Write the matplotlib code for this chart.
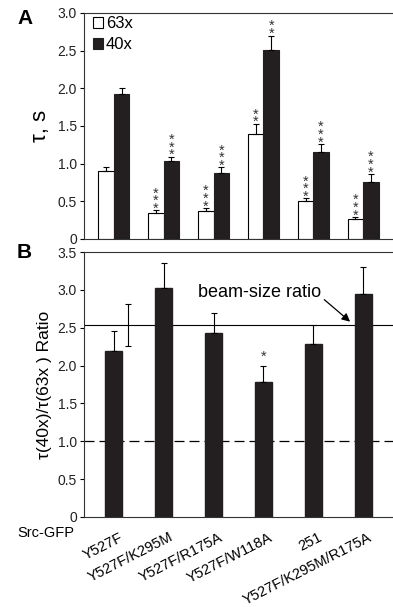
import numpy as np
import matplotlib
matplotlib.use('Agg')
from matplotlib import rcParams
import matplotlib.transforms as mtransforms
rcParams['font.family'] = ['Liberation Sans', 'DejaVu Sans']
import matplotlib.pyplot as plt

# panel A: relaxation time, s
mutants = ['Y527F', 'Y527F/K295M', 'Y527F/R175A', 'Y527F/W118A', '251', 'Y527F/K295M/R175A']
tau63 = [0.90, 0.35, 0.37, 1.40, 0.50, 0.26]
tau63_err = [0.05, 0.03, 0.04, 0.13, 0.04, 0.03]
tau40 = [1.93, 1.04, 0.88, 2.51, 1.16, 0.76]
tau40_err = [0.07, 0.05, 0.07, 0.19, 0.10, 0.10]
stars63 = ['', '***', '***', '**', '***', '***']
stars40 = ['', '***', '***', '**', '***', '***']

# panel B: ratio
ratio = [2.19, 3.02, 2.43, 1.78, 2.29, 2.95]
ratio_err = [0.27, 0.34, 0.27, 0.21, 0.24, 0.35]
starsB = ['', '', '', '*', '', '']
beam_ratio = 2.54
beam_ratio_err = 0.28
dark = '#231f20'

def stack(s):
	return '\n'.join(list(s))

def main():
	fig = plt.figure(figsize=(3.93, 6.07), dpi=100)
	axA = fig.add_axes([0.2137, 0.6063, 0.7863, 0.3723])
	axB = fig.add_axes([0.2137, 0.1483, 0.7863, 0.4365])
	x = np.arange(len(mutants))
	w = 0.31

	# --- A ---
	axA.bar(x - w/2, tau63, w, color='white', edgecolor='black', linewidth=0.8, label='63x')
	axA.bar(x + w/2, tau40, w, color=dark, edgecolor=dark, linewidth=0.8, label='40x')
	axA.errorbar(x - w/2, tau63, yerr=[np.zeros(len(x)), tau63_err], fmt='none',
		ecolor='black', elinewidth=0.8, capsize=2.5, capthick=0.8)
	axA.errorbar(x + w/2, tau40, yerr=[np.zeros(len(x)), tau40_err], fmt='none',
		ecolor='black', elinewidth=0.8, capsize=2.5, capthick=0.8)
	for i in range(len(x)):
		if stars63[i]:
			axA.text(x[i] - w/2, tau63[i] + tau63_err[i] - 0.07, stack(stars63[i]),
				ha='center', va='bottom', fontsize=10.5, linespacing=0.42, color='#333333')
		if stars40[i]:
			axA.text(x[i] + w/2, tau40[i] + tau40_err[i] - 0.07, stack(stars40[i]),
				ha='center', va='bottom', fontsize=10.5, linespacing=0.42, color='#333333')
	axA.set_ylim(0, 3.0)
	axA.set_yticks([0, 0.5, 1.0, 1.5, 2.0, 2.5, 3.0])
	axA.set_yticklabels(['0', '0.5', '1.0', '1.5', '2.0', '2.5', '3.0'])
	axA.set_ylabel('τ, s', fontsize=16, labelpad=5)
	axA.legend(loc='upper left', bbox_to_anchor=(0.03, 0.985), frameon=False, fontsize=12,
		handlelength=0.6, handleheight=0.6, handletextpad=0.15, borderaxespad=0,
		labelspacing=0.35, borderpad=0)

	# --- B ---
	wb = 0.34
	axB.bar(x, ratio, wb, color=dark, edgecolor=dark)
	axB.errorbar(x, ratio, yerr=[np.zeros(len(x)), ratio_err], fmt='none',
		ecolor='black', elinewidth=0.8, capsize=2.5, capthick=0.8)
	for i in range(len(x)):
		if starsB[i]:
			axB.text(x[i], ratio[i] + ratio_err[i] + 0.03, starsB[i], ha='center',
				va='bottom', fontsize=10.5, color='#333333')
	axB.errorbar([0.28], [beam_ratio], yerr=[beam_ratio_err], fmt='none',
		ecolor='black', elinewidth=0.8, capsize=2.5, capthick=0.8)
	axB.axhline(beam_ratio, color='black', linewidth=0.8, zorder=0)
	axB.axhline(1.0, color='black', linewidth=0.9, linestyle=(0, (8, 4)), zorder=0)
	axB.annotate('beam-size ratio', xy=(4.74, 2.58), xytext=(2.93, 2.97),
		ha='center', va='center', fontsize=13,
		arrowprops=dict(arrowstyle='-|>', color='black', lw=0.9, mutation_scale=12,
			shrinkA=0, shrinkB=0, relpos=(1.0, 0.2)))
	axB.set_ylim(0, 3.5)
	axB.set_yticks([0, 0.5, 1.0, 1.5, 2.0, 2.5, 3.0, 3.5])
	axB.set_yticklabels(['0', '0.5', '1.0', '1.5', '2.0', '2.5', '3.0', '3.5'])
	axB.set_ylabel('τ(40x)/τ(63x ) Ratio', fontsize=12.5, labelpad=4)

	for ax in (axA, axB):
		ax.set_xlim(-0.6, 5.6)
		ax.spines['right'].set_visible(False)
		for s in ('left', 'top', 'bottom'):
			ax.spines[s].set_linewidth(0.8)
			ax.spines[s].set_color('#333333')
		ax.tick_params(axis='y', direction='out', length=3, width=0.8, labelsize=10, pad=2,
			labelcolor='#222222')
		ax.tick_params(axis='x', length=0, pad=3)
	axA.set_xticks([])

	# x labels, nudged right/down after all tick_params calls
	axB.set_xticks(x)
	axB.set_xticklabels(mutants, rotation=27, ha='right', rotation_mode='anchor', fontsize=10.5)
	shift = mtransforms.ScaledTranslation(5/100, -9/100, fig.dpi_scale_trans)
	for lab in axB.xaxis.get_majorticklabels():
		lab.set_transform(lab.get_transform() + shift)

	fig.text(17/393, 1 - 19/607, 'A', fontsize=15, fontweight='bold', va='center')
	fig.text(17/393, 1 - 252/607, 'B', fontsize=15, fontweight='bold', va='center')
	fig.text(74/393, 1 - 533/607, 'Src-GFP', fontsize=10.5, ha='right', va='center')

	fig.savefig('out.png', dpi=100)


if __name__ == "__main__":
	main()
